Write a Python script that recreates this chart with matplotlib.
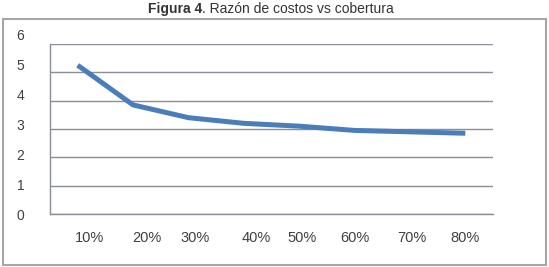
import matplotlib
matplotlib.use("Agg")
import matplotlib.pyplot as plt
from matplotlib.patches import Rectangle
from matplotlib.transforms import ScaledTranslation

plt.rcParams['font.family'] = ['Liberation Sans', 'DejaVu Sans']

categories = ["10%", "20%", "30%", "40%", "50%", "60%", "70%", "80%"]
values = [5.25, 3.85, 3.4, 3.2, 3.1, 2.95, 2.9, 2.85]
yticks = [0, 1, 2, 3, 4, 5, 6]

fig = plt.figure(figsize=(5.49, 2.67), dpi=100)
ax = fig.add_axes([50/549, 1-214/267, 443/549, 170/267])

x = list(range(len(categories)))
ax.plot(x, values, color='#4a7ebb', linewidth=3.6, solid_capstyle='butt', zorder=3)

ax.set_xlim(-0.5, len(categories) - 0.5)
ax.set_ylim(0, 6)
ax.set_yticks(yticks)
ax.set_yticklabels([str(v) for v in yticks])
ax.set_xticks(x)
ax.set_xticklabels(categories)
ax.yaxis.grid(True, color='#8a8e96', linewidth=1.0)
ax.set_axisbelow(True)
ax.tick_params(axis='both', length=0, colors='#404040')
ax.tick_params(axis='y', pad=17, labelsize=10)
ax.tick_params(axis='x', pad=12, labelsize=10.5)
for lab in ax.get_yticklabels():
    lab.set_horizontalalignment('center')
for s in ['top', 'right']:
    ax.spines[s].set_visible(False)
for s in ['left', 'bottom']:
    ax.spines[s].set_color('#8a8e96')
    ax.spines[s].set_linewidth(1.0)

# slight label placement irregularities as in the reference
xoff = [12, 14, 7, 12, 3, 0, 2, 0]
for lab, dx in zip(ax.get_xticklabels(), xoff):
    lab.set_transform(lab.get_transform() + ScaledTranslation(dx/100, 0, fig.dpi_scale_trans))
for lab, v in zip(ax.get_yticklabels(), yticks):
    lab.set_transform(lab.get_transform() + ScaledTranslation(-6/100, v*1.5/100, fig.dpi_scale_trans))

fig.patches.append(Rectangle((3/549, 2/267), 543/549, 246/267, transform=fig.transFigure,
                             fill=False, edgecolor='#a6a6a6', linewidth=1.5))

# title in two parts: bold + regular, centered together
t1 = fig.text(0, 1-9/267, "Figura 4", fontweight='bold', ha='left', va='center',
              fontsize=10, color='#333333')
t2 = fig.text(0, 1-9/267, ". Razón de costos vs cobertura", ha='left', va='center',
              fontsize=10, color='#333333')
r = fig.canvas.get_renderer()
w1 = t1.get_window_extent(r).width
w2 = t2.get_window_extent(r).width
x0 = (542 - (w1 + w2)) / 2
t1.set_x(x0/549)
t2.set_x((x0 + w1)/549)

fig.savefig("out.png", dpi=100)
